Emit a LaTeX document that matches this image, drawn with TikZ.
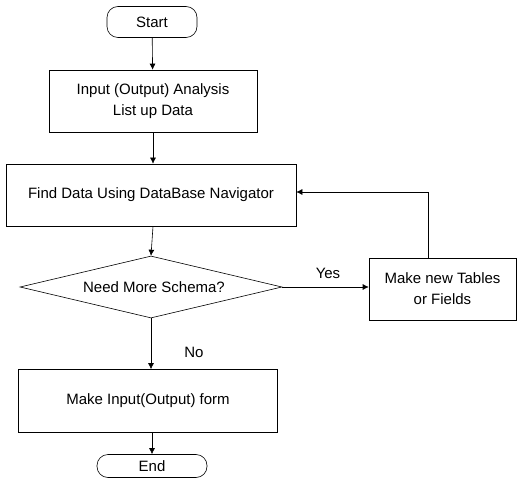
\documentclass[tikz,border=0pt]{standalone}
\usepackage{fontspec}
\setmainfont{Liberation Sans}
\usetikzlibrary{shapes.geometric,arrows.meta}
\begin{document}
\begin{tikzpicture}[x=1pt,y=-1pt,
  every node/.style={font=\fontsize{15}{21}\selectfont},
  box/.style={draw, line width=0.6pt, rectangle, align=center, inner sep=0pt},
  term/.style={draw, line width=0.6pt, rectangle, rounded corners=11pt, inner sep=0pt},
  flow/.style={line width=0.6pt, -{Latex[length=6pt,width=6pt]}},
  plain/.style={line width=0.6pt}
]
\useasboundingbox (0,0) rectangle (519,489);
\node[term, minimum width=90pt, minimum height=31pt] (start) at (152,22) {Start};
\node[box, minimum width=208pt, minimum height=62pt] (in) at (153,101) {Input (Output) Analysis\\List up Data};
\node[box, minimum width=290pt, minimum height=62pt] (find) at (151,195) {Find Data Using DataBase Navigator};
\node[draw, line width=0.6pt, diamond, aspect=4.2, minimum width=262pt, minimum height=62pt, inner sep=0pt] (dec) at (151,287) {};
\node at (154,287) {Need More Schema?};
\node[box, minimum width=147pt, minimum height=62pt] (mk) at (442.5,289) {Make new Tables\\or Fields};
\node[box, minimum width=259pt, minimum height=63pt] (form) at (148,401) {Make Input(Output) form};
\node[term, minimum width=110pt, minimum height=23pt] (end) at (152,466) {End};
\node (yes) at (328,273) {Yes};
\node (no) at (194,352) {No};
\coordinate (c1) at (428,192);
\draw[flow] (start) -- (in);
\draw[flow] (in) -- (in |- find.north);
\draw[flow] (in |- find.south) -- (dec.north);
\draw[flow] (dec.east) -- (mk.west |- dec.east);
\draw[flow] (dec.south) -- (form.north -| dec.south);
\draw[flow] (form.south -| end.north) -- (end.north);
\draw[plain] (mk.north -| c1) -- (c1);
\draw[flow] (c1) -- (find.east |- c1);
\end{tikzpicture}
\end{document}
